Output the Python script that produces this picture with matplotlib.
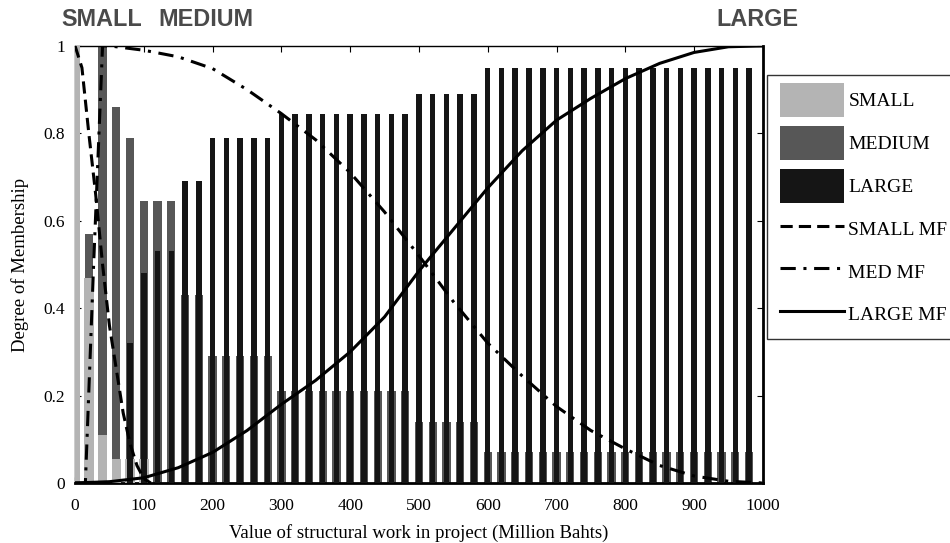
import matplotlib
matplotlib.use("Agg")
import matplotlib.pyplot as plt
from matplotlib.patches import Patch, Rectangle
from matplotlib.lines import Line2D
from matplotlib.legend_handler import HandlerPatch

# ---- bar data (value bins, step 20) ----
bin_x = [0, 20, 40, 60, 80, 100, 120, 140, 160, 180,
         200, 220, 240, 260, 280,
         300, 320, 340, 360, 380, 400, 420, 440, 460, 480,
         500, 520, 540, 560, 580,
         600, 620, 640, 660, 680, 700, 720, 740, 760, 780,
         800, 820, 840, 860, 880, 900, 920, 940, 960, 980]
small_bars = [1.0, 0.47, 0.11, 0.055, 0.055, 0.055, 0, 0, 0, 0,
              0, 0, 0, 0, 0,
              0, 0, 0, 0, 0, 0, 0, 0, 0, 0,
              0, 0, 0, 0, 0,
              0, 0, 0, 0, 0, 0, 0, 0, 0, 0,
              0, 0, 0, 0, 0, 0, 0, 0, 0, 0]
medium_bars = [0, 0.57, 1.0, 0.86, 0.79, 0.645, 0.645, 0.645, 0.43, 0.43,
               0.29, 0.29, 0.29, 0.29, 0.29,
               0.21, 0.21, 0.21, 0.21, 0.21, 0.21, 0.21, 0.21, 0.21, 0.21,
               0.14, 0.14, 0.14, 0.14, 0.14,
               0.07, 0.07, 0.07, 0.07, 0.07, 0.07, 0.07, 0.07, 0.07, 0.07,
               0.07, 0.07, 0.07, 0.07, 0.07, 0.07, 0.07, 0.07, 0.07, 0.07]
large_bars = [0, 0, 0, 0, 0.32, 0.48, 0.53, 0.53, 0.69, 0.69,
              0.79, 0.79, 0.79, 0.79, 0.79,
              0.845, 0.845, 0.845, 0.845, 0.845, 0.845, 0.845, 0.845, 0.845, 0.845,
              0.89, 0.89, 0.89, 0.89, 0.89,
              0.95, 0.95, 0.95, 0.95, 0.95, 0.95, 0.95, 0.95, 0.95, 0.95,
              0.95, 0.95, 0.95, 0.95, 0.95, 0.95, 0.95, 0.95, 0.95, 0.95]

# ---- membership function curves ----
small_mf_x = [0, 10, 20, 30, 40, 50, 60, 70, 80, 90, 100, 110]
small_mf_y = [1.0, 0.95, 0.80, 0.66, 0.50, 0.36, 0.26, 0.16, 0.09, 0.04, 0.01, 0.0]

med_mf_x = [0, 15, 27, 40, 50, 100, 150, 200, 250, 300, 350, 400, 450, 500,
            550, 600, 650, 700, 750, 800, 850, 900, 950, 1000]
med_mf_y = [0.0, 0.0, 0.5, 1.0, 1.0, 0.99, 0.975, 0.948, 0.90, 0.845, 0.785,
            0.71, 0.62, 0.52, 0.415, 0.32, 0.245, 0.175, 0.12, 0.078, 0.04,
            0.016, 0.004, 0.0]

large_mf_x = [0, 50, 100, 150, 200, 250, 300, 350, 400, 450, 500, 550, 600,
              650, 700, 750, 800, 850, 900, 950, 1000]
large_mf_y = [0.0, 0.003, 0.012, 0.035, 0.07, 0.12, 0.18, 0.235, 0.30, 0.38,
              0.485, 0.58, 0.675, 0.76, 0.83, 0.88, 0.925, 0.96, 0.985, 0.998, 1.0]

x_ticks = [0, 100, 200, 300, 400, 500, 600, 700, 800, 900, 1000]
y_ticks = [0, 0.2, 0.4, 0.6, 0.8, 1]
y_tick_labels = ["0", "0.2", "0.4", "0.6", "0.8", "1"]

c_small, c_med, c_large = "#b4b4b4", "#575757", "#151515"

fig = plt.figure(figsize=(9.5, 5.43), dpi=100)
ax = fig.add_axes([0.079, 0.1105, 0.724, 0.805])

serif = "Liberation Serif"

ax.bar(bin_x, medium_bars, width=12, color=c_med, zorder=2)
ax.bar(bin_x, small_bars, width=14, color=c_small, zorder=3)
ax.bar(bin_x, large_bars, width=8, color=c_large, zorder=4)

dash_small = (0, (4, 2))
dash_med = (0, (5, 2.5, 1, 2.5))
ax.plot(small_mf_x, small_mf_y, color="black", lw=2.2, ls=dash_small, zorder=5)
ax.plot(med_mf_x, med_mf_y, color="black", lw=2.2, ls=dash_med, zorder=5)
ax.plot(large_mf_x, large_mf_y, color="black", lw=2.2, ls="-", zorder=5)

ax.set_xlim(0, 1000)
ax.set_ylim(0, 1)
ax.set_xticks(x_ticks)
ax.set_yticks(y_ticks)
ax.set_yticklabels(y_tick_labels)
ax.tick_params(direction="in", top=True, right=True, length=4, width=0.8,
               labelsize=12.5)
ax.tick_params(axis="x", pad=11)
ax.tick_params(axis="y", pad=7)
for lab in ax.get_xticklabels() + ax.get_yticklabels():
    lab.set_family(serif)
for s in ax.spines.values():
    s.set_linewidth(1.0)
ax.spines["bottom"].set_linewidth(2.0)
ax.spines["right"].set_linewidth(2.0)

ax.set_xlabel("Value of structural work in project (Million Bahts)",
              family=serif, fontsize=13.5, labelpad=7)
ax.set_ylabel("Degree of Membership", family=serif, fontsize=13.5, labelpad=10.5)

top_kw = dict(family="Liberation Sans", fontsize=16.8, fontweight="bold",
              color="#4a4a4a", va="center")
fig.text(61 / 950, 1 - 20 / 543, "SMALL", **top_kw)
fig.text(158 / 950, 1 - 20 / 543, "MEDIUM", **top_kw)
fig.text(716 / 950, 1 - 20 / 543, "LARGE", **top_kw)


def big_rect(legend, orig_handle, xdescent, ydescent, width, height, fontsize):
    extra = (24.5 - height) / 2.0
    return Rectangle((-xdescent, -ydescent - extra), width, height + 2 * extra)


handles = [
    Patch(facecolor=c_small, edgecolor="none", label="SMALL"),
    Patch(facecolor=c_med, edgecolor="none", label="MEDIUM"),
    Patch(facecolor=c_large, edgecolor="none", label="LARGE"),
    Line2D([], [], color="black", lw=2.2, ls=dash_small, label="SMALL MF"),
    Line2D([], [], color="black", lw=2.2, ls=dash_med, label="MED MF"),
    Line2D([], [], color="black", lw=2.2, ls="-", label="LARGE MF"),
]
leg = fig.legend(handles=handles, loc="upper left",
                 bbox_to_anchor=(767 / 950, 1 - 75 / 543),
                 bbox_transform=fig.transFigure, borderaxespad=0,
                 prop={"family": serif, "size": 14},
                 handlelength=3.3, handleheight=1.5, labelspacing=0.98,
                 handletextpad=0.2, borderpad=0.68,
                 handler_map={Patch: HandlerPatch(patch_func=big_rect)},
                 fancybox=False, frameon=True, edgecolor="black")
leg.get_frame().set_linewidth(1.0)

fig.savefig("out.png", dpi=100)
